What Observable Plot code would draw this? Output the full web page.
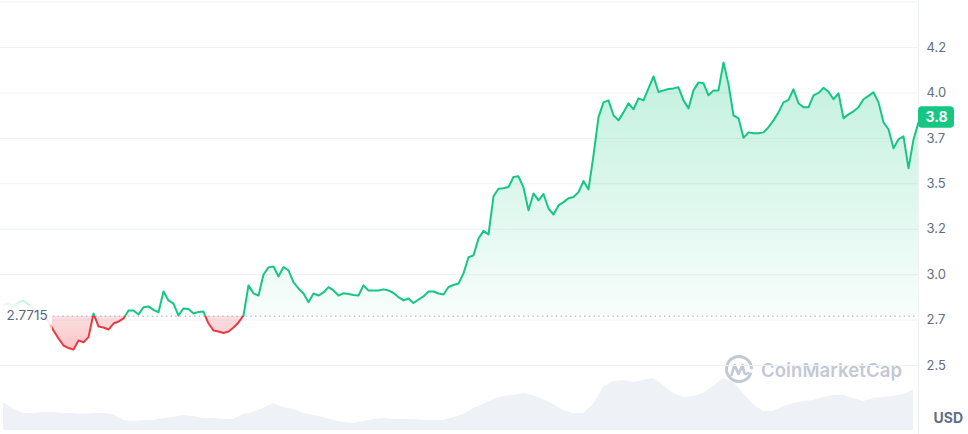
<!DOCTYPE html>
<html><head><meta charset="utf-8">
<script src="https://cdn.jsdelivr.net/npm/d3@7"></script>
<script src="https://cdn.jsdelivr.net/npm/@observablehq/plot@0.6"></script>
<style>
body{margin:0;background:#fff;font-family:Inter,"Noto Sans",sans-serif}
#wrap{position:relative;width:968px;height:434px;overflow:hidden;background:#fff}
#wrap > svg, #wrap > div{position:absolute;left:0;top:0}
#wm{display:flex;align-items:center;gap:7px;left:724px !important;top:355px !important;color:#a9b2c3;opacity:.7;font:600 18.5px Inter,sans-serif;letter-spacing:.1px}
</style></head><body><div id="wrap"></div>
<script>
// Hourly price (USD), ~7.6 days
const prices = [
 2.830,2.841,2.825,2.847,2.858,2.836,2.814,2.792,2.770,2.742,
 2.693,2.649,2.610,2.596,2.588,2.638,2.628,2.656,2.786,2.715,
 2.709,2.698,2.731,2.742,2.759,2.803,2.803,2.781,2.821,2.825,
 2.806,2.793,2.907,2.858,2.841,2.775,2.814,2.811,2.786,2.795,
 2.797,2.731,2.693,2.687,2.679,2.687,2.709,2.737,2.775,2.941,
 2.897,2.885,3.001,3.040,3.045,2.990,3.042,3.023,2.957,2.924,
 2.896,2.848,2.896,2.885,2.902,2.931,2.913,2.885,2.898,2.894,
 2.888,2.885,2.941,2.913,2.913,2.913,2.919,2.913,2.899,2.876,
 2.858,2.869,2.844,2.863,2.880,2.907,2.907,2.896,2.891,2.932,
 2.943,2.951,3.007,3.096,3.106,3.199,3.241,3.221,3.431,3.473,
 3.475,3.482,3.537,3.541,3.480,3.354,3.447,3.409,3.444,3.364,
 3.331,3.381,3.399,3.420,3.427,3.454,3.515,3.469,3.656,3.867,
 3.948,3.959,3.877,3.849,3.893,3.943,3.910,3.970,3.959,4.025,
 4.091,4.005,4.014,4.022,4.025,4.031,3.959,3.915,4.014,4.058,
 4.053,3.987,4.014,4.014,4.168,4.047,3.877,3.860,3.753,3.783,
 3.778,3.778,3.783,3.811,3.849,3.893,3.948,3.962,4.020,3.943,
 3.921,3.921,3.987,4.000,4.028,4.006,3.965,3.998,3.860,3.882,
 3.899,3.921,3.965,3.984,4.003,3.948,3.838,3.800,3.695,3.745,
 3.761,3.585,3.744,3.838
];
// Volume (millions USD), one value every 2 hours
const volumes = [
 14,10.5,8.5,8.5,9,9,8.5,8.5,8,8.5,
 8.5,8,5,4.5,5,5,6,6.5,7.5,7,
 6,6,5.5,5.5,8,9,11,13.5,11.5,10.5,
 8.5,7.5,6.5,5,4,3.5,4.5,5.5,6,5.5,
 5.5,5.5,5,5,5,6.5,8,11,13,15.5,
 17,17.5,18.5,17.5,15.5,13,10,8.5,8.5,13,
 21.5,24.5,25,24,25,26,22.5,18.5,16.5,17,
 18.5,22,26,24,18.5,13,9.5,9.5,12,13.5,
 14.5,15,16.5,17.5,17.5,16,14.5,16,16.5,17,
 18,20
];
const baseline = 2.7715;
const baselineLabel = "2.7715";
const baselineStart = 10; // hour where the period starts
const gridTicks = [2.5,2.75,3,3.25,3.5,3.75,4,4.25,4.5];
const tickValues = [2.5,2.75,3,3.25,3.5,3.75,4,4.25];
const tickLabels = ["2.5","2.7","3.0","3.2","3.5","3.7","4.0","4.2"];
const lastLabel = "3.8";
const unitLabel = "USD";

const GREEN = "#16c784", RED = "#ea3943";
const data = prices.map((p, i) => ({t: i, p}));
const volData = volumes.map((v, j) => ({t: j * 2, v}));
const lastT = prices.length - 1;
const xScale = {domain: [0, lastT], range: [3, 918], axis: null};

const volPlot = Plot.plot({
  width: 968, height: 434, margin: 0,
  x: xScale,
  y: {domain: [0, 30], range: [430, 370], axis: null},
  style: {background: "transparent"},
  marks: [
    Plot.areaY(volData, {x: "t", y: "v", fill: "#eef1f5"})
  ]
});

const pricePlot = Plot.plot({
  width: 968, height: 434, marginLeft: 0, marginRight: 50, marginTop: 0, marginBottom: 0,
  x: xScale,
  y: {domain: [2.5, 4.25], range: [365, 47], axis: null},
  style: {background: "transparent", fontFamily: "Inter, sans-serif", overflow: "visible"},
  marks: [
    Plot.ruleY(gridTicks, {stroke: "#eff2f5", strokeWidth: 1}),
    Plot.ruleX([lastT], {stroke: "#eff2f5", strokeWidth: 1}),
    Plot.areaY(data, {x: "t", y1: () => baseline, y2: "p", fill: "url(#areaGrad)"}),
    Plot.ruleY([baseline], {x1: baselineStart, x2: lastT, stroke: "#a1a7bb", strokeWidth: 1, strokeDasharray: "1.5,3.2"}),
    Plot.line(data, {x: "t", y: "p", stroke: "url(#lineGrad)", strokeWidth: 2, strokeLinejoin: "round"}),
    Plot.rect([0], {x1: 0, x2: baselineStart, y1: 2.6, y2: 2.95, insetLeft: -3, insetRight: 1, fill: "url(#fadeGrad)"}),
    Plot.rect([baseline], {x1: 0, x2: baselineStart, y1: d => d, y2: d => d, insetLeft: -3, insetRight: 1, insetTop: -10, insetBottom: -9, fill: "white", fillOpacity: 0.8}),
    Plot.text([baseline], {y: d => d, frameAnchor: "left", dx: 6, textAnchor: "start", text: () => baselineLabel, fill: "#58667e", fontSize: 13.5}),
    Plot.text(tickValues, {y: d => d, frameAnchor: "right", dx: 8, textAnchor: "start", text: (d, i) => tickLabels[i], fill: "#616e85", fontSize: 13}),
    Plot.text([unitLabel], {frameAnchor: "bottom-right", dx: 15, dy: -12, textAnchor: "start", text: d => d, fill: "#616e85", fontSize: 14, fontWeight: "bold"}),
    Plot.rect([prices[lastT]], {x1: lastT, x2: lastT, y1: d => d, y2: d => d, insetRight: -36, insetTop: -15.5, insetBottom: -6, rx: 4, fill: GREEN}),
    Plot.text([prices[lastT]], {x: lastT, y: d => d, dx: 18, dy: -4.5, text: () => lastLabel, fill: "white", fontSize: 14, fontWeight: "bold"})
  ]
});

// gradients keyed to the baseline position on the y scale
const by = pricePlot.scale("y").apply(baseline);
const H = 434, off = y => (y / H).toFixed(4);
const NS = "http://www.w3.org/2000/svg";
function grad(id, attrs, stops) {
  const g = document.createElementNS(NS, "linearGradient");
  g.setAttribute("id", id);
  for (const k in attrs) g.setAttribute(k, attrs[k]);
  for (const [o, c, a] of stops) {
    const s = document.createElementNS(NS, "stop");
    s.setAttribute("offset", o); s.setAttribute("stop-color", c); s.setAttribute("stop-opacity", a);
    g.appendChild(s);
  }
  return g;
}
const defs = document.createElementNS(NS, "defs");
const uy = {gradientUnits: "userSpaceOnUse", x1: 0, y1: 0, x2: 0, y2: H};
defs.appendChild(grad("lineGrad", uy, [[off(by), GREEN, 1], [off(by), RED, 1]]));
defs.appendChild(grad("areaGrad", uy, [
  [off(70), GREEN, 0.26], [off(200), GREEN, 0.14], [off(by), GREEN, 0.03],
  [off(by), RED, 0.16], [off(by + 35), RED, 0.3]
]));
defs.appendChild(grad("fadeGrad", {x1: 0, y1: 0, x2: 1, y2: 0}, [[0, "#fff", 0.93], [1, "#fff", 0.6]]));
pricePlot.insertBefore(defs, pricePlot.firstChild);

const wrap = document.getElementById("wrap");
wrap.appendChild(volPlot);
const wm = document.createElement("div");
wm.id = "wm";
wm.innerHTML = '<svg width="30" height="30" viewBox="0 0 30 30"><path d="M26.5 19 A12.5 12.5 0 1 1 27.5 13" fill="none" stroke="currentColor" stroke-width="3" stroke-linecap="round"/><path d="M7.5 20 L10.5 10 L14.5 19 L18.5 10 L20 17 Q21 20 24 18" fill="none" stroke="currentColor" stroke-width="2.6" stroke-linejoin="round" stroke-linecap="round"/></svg><span>CoinMarketCap</span>';
wrap.appendChild(wm);
wrap.appendChild(pricePlot);
</script></body></html>
